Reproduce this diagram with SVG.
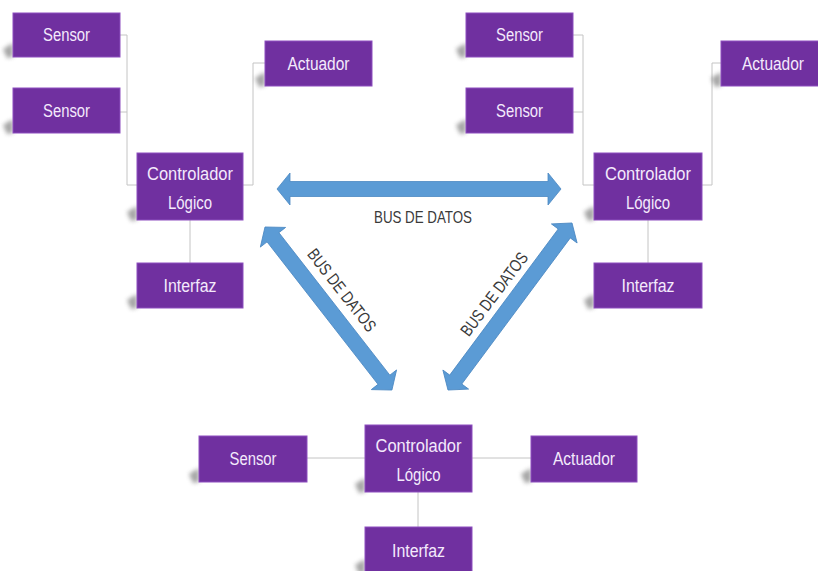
<svg xmlns="http://www.w3.org/2000/svg" width="818" height="571" viewBox="0 0 818 571">
  <style>
    .box { fill: #7030a0; stroke: #8d4fbf; stroke-width: 1; }
    .lbl { font-family: "Liberation Sans", Arial, sans-serif; font-size: 17.5px; fill: #f4eafc; text-anchor: middle; }
    .wire { fill: none; stroke: #c4c4c4; stroke-width: 1; }
    .bus { fill: #5b9bd5; stroke: #4b88c2; stroke-width: 0.8; }
    .buslbl { font-family: "Liberation Sans", Arial, sans-serif; font-size: 17px; fill: #3a3a3a; text-anchor: middle; }
    .shade { fill: #6a6a6a; opacity: 0.6; filter: url(#soft); }
  </style>
  <defs>
    <filter id="soft" x="-60%" y="-60%" width="220%" height="220%">
      <feGaussianBlur stdDeviation="2"/>
    </filter>
    <!-- double-headed bus arrow, laid along the x axis -->
    <path id="bus206" d="M0,0 L13,-16 L13,-7.5 L193.6,-7.5 L193.6,-16 L206.6,0 L193.6,16 L193.6,7.5 L13,7.5 L13,16 Z"/>
    <path id="bus208" d="M0,0 L13,-16 L13,-7.5 L195,-7.5 L195,-16 L208,0 L195,16 L195,7.5 L13,7.5 L13,16 Z"/>
    <path id="shadowmark" d="M-10,-8 L0,-14 L0,0 L-6,1 Z"/>
  </defs>

  <rect width="818" height="571" fill="#ffffff"/>

  <!-- connectors -->
  <g id="connectors">
    <path class="wire" d="M120,35 H127 V185 H137 M120,112 H127 M243,185 H253 V63 H265 M190,220 V263"/>
    <path class="wire" d="M573,35 H583 V185 H594 M573,112 H583 M702,185 H712 V63 H721 M648,220 V263"/>
    <path class="wire" d="M307,458 H365 M472,458 H531 M418,492 V527"/>
  </g>

  <!-- data buses -->
  <g id="buses">
    <path class="bus" d="M277,189 L290,173 L290,181.5 L548,181.5 L548,173 L561,189 L548,205 L548,196.5 L290,196.5 L290,205 Z"/>
    <use href="#bus206" class="bus" transform="translate(265,227) rotate(52.1)"/>
    <use href="#bus208" class="bus" transform="translate(448,390) rotate(-53.4)"/>
    <text class="buslbl" x="423" y="223" textLength="98" lengthAdjust="spacingAndGlyphs">BUS DE DATOS</text>
    <text class="buslbl" transform="translate(342,290) rotate(52)" x="0" y="6" textLength="100" lengthAdjust="spacingAndGlyphs">BUS DE DATOS</text>
    <text class="buslbl" transform="translate(494,294) rotate(-53)" x="0" y="6" textLength="100" lengthAdjust="spacingAndGlyphs">BUS DE DATOS</text>
  </g>

  <!-- left station -->
  <g id="left-sensor-1">
    <use href="#shadowmark" class="shade" transform="translate(13,57)"/>
    <rect class="box" x="13" y="13" width="107" height="44"/>
    <text class="lbl" x="66.5" y="41" textLength="47" lengthAdjust="spacingAndGlyphs">Sensor</text>
  </g>
  <g id="left-sensor-2">
    <use href="#shadowmark" class="shade" transform="translate(13,133)"/>
    <rect class="box" x="13" y="88" width="107" height="45"/>
    <text class="lbl" x="66.5" y="117" textLength="47" lengthAdjust="spacingAndGlyphs">Sensor</text>
  </g>
  <g id="left-actuator">
    <use href="#shadowmark" class="shade" transform="translate(265,86)"/>
    <rect class="box" x="265" y="41" width="107" height="45"/>
    <text class="lbl" x="318.5" y="70" textLength="62" lengthAdjust="spacingAndGlyphs">Actuador</text>
  </g>
  <g id="left-controller">
    <use href="#shadowmark" class="shade" transform="translate(137,220)"/>
    <rect class="box" x="137" y="153" width="106" height="67"/>
    <text class="lbl" x="190" y="180" textLength="86" lengthAdjust="spacingAndGlyphs">Controlador</text>
    <text class="lbl" x="190" y="209" textLength="44" lengthAdjust="spacingAndGlyphs">Lógico</text>
  </g>
  <g id="left-interface">
    <use href="#shadowmark" class="shade" transform="translate(137,308)"/>
    <rect class="box" x="137" y="263" width="106" height="45"/>
    <text class="lbl" x="190" y="292" textLength="53" lengthAdjust="spacingAndGlyphs">Interfaz</text>
  </g>

  <!-- right station -->
  <g id="right-sensor-1">
    <use href="#shadowmark" class="shade" transform="translate(466,57)"/>
    <rect class="box" x="466" y="13" width="107" height="44"/>
    <text class="lbl" x="519.5" y="41" textLength="47" lengthAdjust="spacingAndGlyphs">Sensor</text>
  </g>
  <g id="right-sensor-2">
    <use href="#shadowmark" class="shade" transform="translate(466,133)"/>
    <rect class="box" x="466" y="88" width="107" height="45"/>
    <text class="lbl" x="519.5" y="117" textLength="47" lengthAdjust="spacingAndGlyphs">Sensor</text>
  </g>
  <g id="right-actuator">
    <use href="#shadowmark" class="shade" transform="translate(721,86)"/>
    <rect class="box" x="721" y="41" width="107" height="45"/>
    <text class="lbl" x="773" y="70" textLength="62" lengthAdjust="spacingAndGlyphs">Actuador</text>
  </g>
  <g id="right-controller">
    <use href="#shadowmark" class="shade" transform="translate(594,220)"/>
    <rect class="box" x="594" y="153" width="108" height="67"/>
    <text class="lbl" x="648" y="180" textLength="86" lengthAdjust="spacingAndGlyphs">Controlador</text>
    <text class="lbl" x="648" y="209" textLength="44" lengthAdjust="spacingAndGlyphs">Lógico</text>
  </g>
  <g id="right-interface">
    <use href="#shadowmark" class="shade" transform="translate(594,308)"/>
    <rect class="box" x="594" y="263" width="108" height="45"/>
    <text class="lbl" x="648" y="292" textLength="53" lengthAdjust="spacingAndGlyphs">Interfaz</text>
  </g>

  <!-- bottom station -->
  <g id="bottom-sensor">
    <use href="#shadowmark" class="shade" transform="translate(199,482)"/>
    <rect class="box" x="199" y="436" width="108" height="46"/>
    <text class="lbl" x="253" y="465" textLength="47" lengthAdjust="spacingAndGlyphs">Sensor</text>
  </g>
  <g id="bottom-controller">
    <use href="#shadowmark" class="shade" transform="translate(365,492)"/>
    <rect class="box" x="365" y="425" width="107" height="67"/>
    <text class="lbl" x="418.5" y="452" textLength="86" lengthAdjust="spacingAndGlyphs">Controlador</text>
    <text class="lbl" x="418.5" y="481" textLength="44" lengthAdjust="spacingAndGlyphs">Lógico</text>
  </g>
  <g id="bottom-actuator">
    <use href="#shadowmark" class="shade" transform="translate(531,482)"/>
    <rect class="box" x="531" y="436" width="106" height="46"/>
    <text class="lbl" x="584" y="465" textLength="62" lengthAdjust="spacingAndGlyphs">Actuador</text>
  </g>
  <g id="bottom-interface">
    <use href="#shadowmark" class="shade" transform="translate(365,573)"/>
    <rect class="box" x="365" y="527" width="107" height="46"/>
    <text class="lbl" x="418.5" y="557" textLength="53" lengthAdjust="spacingAndGlyphs">Interfaz</text>
  </g>
</svg>
